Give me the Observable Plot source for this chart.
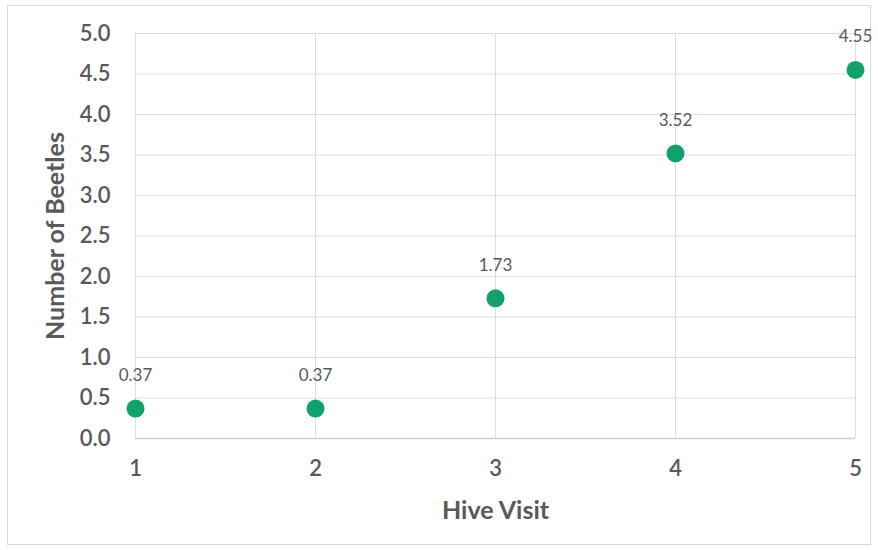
<!DOCTYPE html>
<html>
<head>
<meta charset="utf-8">
<script src="https://cdn.jsdelivr.net/npm/d3@7"></script>
<script src="https://cdn.jsdelivr.net/npm/@observablehq/plot@0.6"></script>
<style>
  html, body { margin: 0; padding: 0; background: #fff; }
  #wrap { position: relative; width: 878px; height: 550px; }
  #border { position: absolute; left: 7px; top: 5px; width: 864px; height: 540px; border: 1px solid #d9d9d9; box-sizing: border-box; }
  #chart { position: absolute; left: 0; top: 0; }
</style>
</head>
<body>
<div id="wrap"><div id="border"></div><div id="chart"></div></div>
<script>
// Average number of beetles counted per hive visit
const visits = [1, 2, 3, 4, 5];
const beetles = [0.37, 0.37, 1.73, 3.52, 4.55];
const yTicks = [0, 0.5, 1, 1.5, 2, 2.5, 3, 3.5, 4, 4.5, 5];

const data = visits.map((v, i) => ({visit: v, beetles: beetles[i]}));
const font = "Lato, 'Open Sans', sans-serif";
const grey = "#595959";

const chart = Plot.plot({
  width: 878,
  height: 550,
  marginLeft: 135,
  marginRight: 23,
  marginTop: 33,
  marginBottom: 112,
  style: {fontFamily: font, background: "transparent"},
  x: {domain: [1, 5]},
  y: {domain: [0, 5]},
  marks: [
    Plot.gridX(visits, {stroke: "#dedede", strokeOpacity: 1}),
    Plot.gridY(yTicks, {stroke: "#dedede", strokeOpacity: 1}),
    Plot.ruleY([0], {stroke: "#d0d0d0", strokeWidth: 1.5}),
    Plot.axisY(yTicks, {
      tickSize: 0, tickPadding: 25, fontSize: 22, fontWeight: 600, fill: grey,
      tickFormat: d => d.toFixed(1), label: null
    }),
    Plot.axisX(visits, {
      tickSize: 0, tickPadding: 22, fontSize: 22, fontWeight: 600, fill: grey,
      tickFormat: d => String(d), label: null
    }),
    Plot.text(["Number of Beetles"], {
      frameAnchor: "left", rotate: -90, dx: -80, textAnchor: "middle", lineAnchor: "middle",
      fontSize: 25, fontWeight: 700, fill: grey
    }),
    Plot.text(["Hive Visit"], {
      frameAnchor: "bottom", dy: 72, textAnchor: "middle", lineAnchor: "middle",
      fontSize: 25, fontWeight: 700, fill: grey
    }),
    Plot.dot(data, {x: "visit", y: "beetles", r: 9, fill: "#12a06c", stroke: null}),
    Plot.text(data, {
      x: "visit", y: "beetles", text: d => d.beetles.toFixed(2),
      dy: -33, fontSize: 17, fill: grey
    })
  ]
});
document.getElementById("chart").append(chart);
</script>
</body>
</html>
